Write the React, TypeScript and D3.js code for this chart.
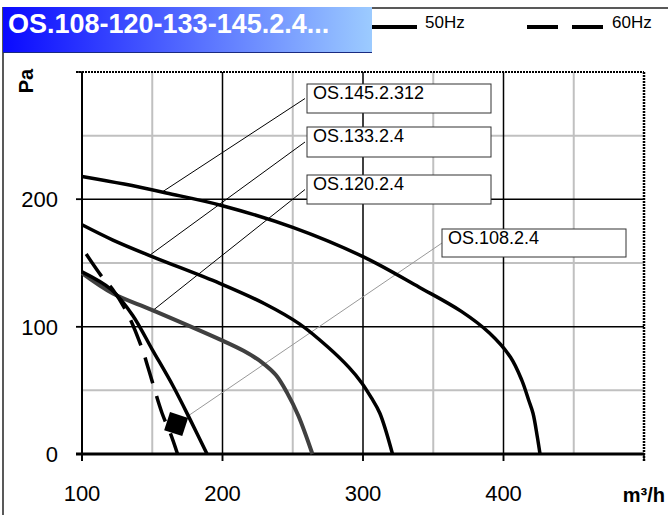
import React from "react";
import * as d3 from "d3";

// ---- data (x: m³/h, y: Pa) ----
const xTicks = [100, 200, 300, 400, 500];
const xTickLabels = ["100", "200", "300", "400", ""];
const yTicks = [0, 100, 200, 300];
const yTickLabels = ["0", "100", "200", ""];
const xMinorGrid = [150, 250, 350, 450];
const xMajorGrid = [200, 300, 400];
const yMinorGrid = [50, 150, 250];
const yMajorGrid = [100, 200];

const os145: [number, number][] = [
  [100, 218], [130, 212], [160, 205], [200, 195], [250, 178], [300, 155],
  [340, 131], [370, 112], [390, 95], [405, 76], [413, 58], [418, 42],
  [421, 32], [424, 14], [426, 0],
];
const os133: [number, number][] = [
  [100, 180], [122, 168], [150, 155], [198, 134], [230, 118], [255, 102],
  [275, 84], [290, 68], [299, 56], [306, 44], [312, 32], [321, 0],
];
const os120: [number, number][] = [
  [100, 142], [122, 126], [150, 113], [198, 90], [215, 81], [228, 72],
  [238, 62], [246, 48], [254, 30], [264, 0],
];
const os108: [number, number][] = [
  [100, 143], [121, 129], [136, 109], [150, 82], [165, 53], [177, 27], [189, 0],
];
const os108_60: [number, number][] = [
  [103, 157], [115, 138], [122, 129], [133, 109], [143, 82], [147, 68],
  [157, 32], [163, 16], [168, 0],
];
const marker: [number, number] = [167, 23.5];

const labels = ["OS.145.2.312", "OS.133.2.4", "OS.120.2.4", "OS.108.2.4"];
const labelAnchorX = [157, 148, 150.5];

export default function App() {
  const W = 668, H = 515;
  const x = d3.scaleLinear().domain([100, 500]).range([82, 644]);
  const y = d3.scaleLinear().domain([0, 300]).range([454, 72]);
  const line = d3
    .line<[number, number]>()
    .x((d) => x(d[0]))
    .y((d) => y(d[1]))
    .curve(d3.curveCatmullRom.alpha(0.5));

  const interp = (arr: [number, number][], xv: number) => {
    for (let i = 0; i < arr.length - 1; i++) {
      if (xv >= arr[i][0] && xv <= arr[i + 1][0]) {
        const t = (xv - arr[i][0]) / (arr[i + 1][0] - arr[i][0]);
        return arr[i][1] + t * (arr[i + 1][1] - arr[i][1]);
      }
    }
    return arr[0][1];
  };
  const curves = [os145, os133, os120];

  const boxes = [
    { x: 307, y: 84, w: 184, h: 29 },
    { x: 307, y: 127, w: 184, h: 30 },
    { x: 307, y: 175, w: 184, h: 29 },
    { x: 442, y: 229, w: 184, h: 28 },
  ];

  const font = "'Liberation Sans', Arial, sans-serif";
  const mx = x(marker[0]), my = y(marker[1]);

  return (
    <svg
      width={W}
      height={H}
      style={{ position: "absolute", left: 0, top: 0, background: "#fff" }}
      fontFamily={font}
    >
      <defs>
        <linearGradient id="tg" x1="0" x2="1" y1="0" y2="0">
          <stop offset="0" stopColor="#0a0aff" />
          <stop offset="1" stopColor="#9ccbff" />
        </linearGradient>
      </defs>
      <rect x={0} y={0} width={W} height={H} fill="#fff" />
      {/* outer frame */}
      <line x1={3} x2={3} y1={7} y2={H} stroke="#222" strokeWidth={1.5} />
      <line x1={372} x2={W} y1={8} y2={8} stroke="#222" strokeWidth={1.5} />
      {/* title */}
      <rect x={3} y={7} width={369} height={46} fill="url(#tg)" />
      <line x1={3} x2={372} y1={52.5} y2={52.5} stroke="#1a2a80" strokeWidth={1} />
      <text x={8} y={33} fill="#fff" fontWeight="bold" fontSize={27}>
        OS.108-120-133-145.2.4...
      </text>
      {/* legend */}
      <line x1={372} x2={417} y1={27} y2={27} stroke="#000" strokeWidth={4} />
      <text x={425} y={28} fontSize={17}>50Hz</text>
      <line x1={527} x2={603} y1={27} y2={27} stroke="#000" strokeWidth={4} strokeDasharray="31,14" />
      <text x={612} y={28} fontSize={17}>60Hz</text>

      {/* grid */}
      {xMinorGrid.map((v) => (
        <line key={"xm" + v} x1={x(v)} x2={x(v)} y1={y(300)} y2={y(0)} stroke="#c0c0c0" strokeWidth={2} />
      ))}
      {yMinorGrid.map((v) => (
        <line key={"ym" + v} x1={x(100)} x2={x(500)} y1={y(v)} y2={y(v)} stroke="#c0c0c0" strokeWidth={2} />
      ))}
      {xMajorGrid.map((v) => (
        <line key={"xM" + v} x1={x(v)} x2={x(v)} y1={y(300)} y2={y(0) + 7} stroke="#000" strokeWidth={1.5} />
      ))}
      {yMajorGrid.map((v) => (
        <line key={"yM" + v} x1={x(100) - 6} x2={x(500)} y1={y(v)} y2={y(v)} stroke="#000" strokeWidth={1.5} />
      ))}
      {/* plot border top/right dotted */}
      <line x1={x(100) - 6} x2={x(500)} y1={y(300)} y2={y(300)} stroke="#000" strokeWidth={2} strokeDasharray="2,1" />
      <line x1={x(500)} x2={x(500)} y1={y(300)} y2={y(0) + 7} stroke="#000" strokeWidth={2.5} strokeDasharray="2,1" />
      {/* axes */}
      <line x1={x(100)} x2={x(100)} y1={y(300)} y2={y(0) + 7} stroke="#000" strokeWidth={2} />
      <line x1={x(100) - 6} x2={x(500)} y1={y(0)} y2={y(0)} stroke="#000" strokeWidth={3} />
      {yTicks.map((v) => (
        <line key={"yt" + v} x1={x(100) - 6} x2={x(100)} y1={y(v)} y2={y(v)} stroke="#000" strokeWidth={1.5} />
      ))}
      {xTicks.map((v) => (
        <line key={"xt" + v} x1={x(v)} x2={x(v)} y1={y(0)} y2={y(0) + 7} stroke="#000" strokeWidth={1.5} />
      ))}
      {/* tick labels */}
      {xTicks.map((v, i) => (
        <text key={"xl" + v} x={x(v)} y={501} fontSize={22} textAnchor="middle">
          {xTickLabels[i]}
        </text>
      ))}
      {yTicks.map((v, i) => (
        <text key={"yl" + v} x={58} y={y(v) + 8} fontSize={22} textAnchor="end">
          {yTickLabels[i]}
        </text>
      ))}
      <text x={665} y={502} fontSize={20} fontWeight="bold" textAnchor="end">
        m³/h
      </text>
      <text transform="translate(33,81) rotate(-90)" fontSize={20} fontWeight="bold" textAnchor="middle">
        Pa
      </text>

      {/* leader lines */}
      {curves.map((c, i) => (
        <line
          key={"ld" + i}
          x1={boxes[i].x - 2}
          y1={boxes[i].y + boxes[i].h / 2}
          x2={x(labelAnchorX[i])}
          y2={y(interp(c, labelAnchorX[i]))}
          stroke="#000"
          strokeWidth={1}
        />
      ))}
      <line x1={boxes[3].x} y1={boxes[3].y + 14} x2={mx} y2={my} stroke="#999" strokeWidth={1} />

      {/* curves */}
      <path d={line(os145) || ""} fill="none" stroke="#000" strokeWidth={3.5} />
      <path d={line(os133) || ""} fill="none" stroke="#000" strokeWidth={3.5} />
      <path d={line(os120) || ""} fill="none" stroke="#404040" strokeWidth={4} />
      <path d={line(os108) || ""} fill="none" stroke="#000" strokeWidth={3.5} />
      <path d={line(os108_60) || ""} fill="none" stroke="#000" strokeWidth={3.5} strokeDasharray="27,13" />
      <rect
        x={mx - 9.5}
        y={my - 9.5}
        width={19}
        height={19}
        fill="#000"
        transform={`rotate(18 ${mx} ${my})`}
      />

      {/* label boxes */}
      {boxes.map((b, i) => (
        <g key={"bx" + i}>
          <rect x={b.x} y={b.y} width={b.w} height={b.h} fill="#fff" stroke="#333" strokeWidth={1} />
          <text x={b.x + 6} y={b.y + 15} fontSize={18}>
            {labels[i]}
          </text>
        </g>
      ))}
    </svg>
  );
}
